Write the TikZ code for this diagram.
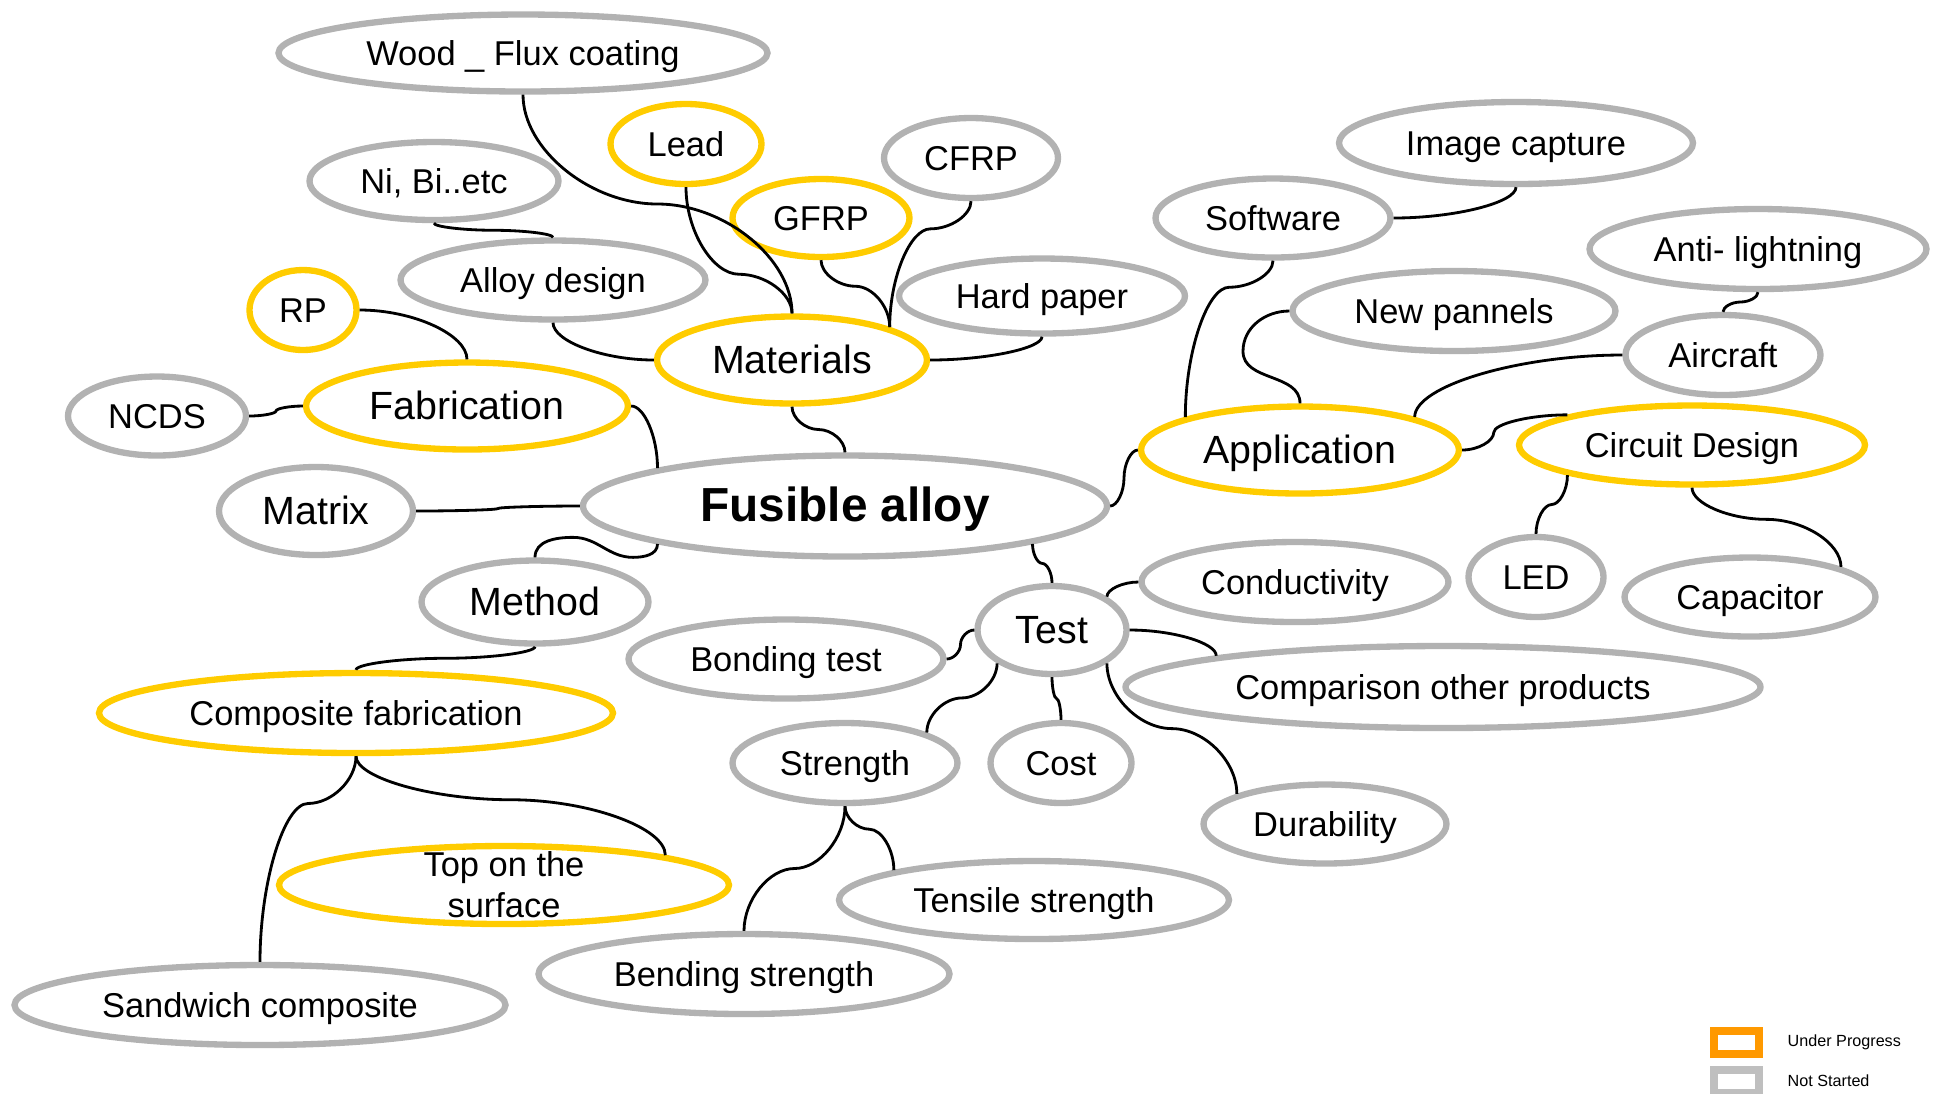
\documentclass[tikz,border=0pt]{standalone}
\usepackage{fontspec}
\setmainfont{Liberation Sans}
\usepackage{tikz}
\usetikzlibrary{shapes.geometric,positioning,calc}
\usepackage{xcolor}
\definecolor{nodegray}{RGB}{178,178,178}
\definecolor{progyellow}{RGB}{255,204,0}
\definecolor{legorange}{RGB}{255,153,0}
\definecolor{leggray}{RGB}{191,191,191}

\tikzset{
  bub/.style={ellipse, draw=nodegray, line width=1.8pt, inner sep=0pt, text height=0.905em, text depth=0.212em, font=\fontsize{9.8}{11.6}\selectfont},
  prog/.style={bub, draw=progyellow},
  big/.style={text height=1.0em, font=\fontsize{11.2}{13}\selectfont},
  link/.style={line width=0.8pt},
  keybox/.style={line width=0.08cm, minimum width=0.45cm, minimum height=0.23cm, inner sep=0pt},
  keytext/.style={inner sep=0pt, font=\fontsize{4.6}{5.5}\selectfont},
  % vertical - horizontal - vertical
  vcurve/.style={to path={let \p1=(\tikztostart), \p2=(\tikztotarget), \n1={\y1+#1*(\y2-\y1)} in
    .. controls (\x1,{(\y1+\n1*1pt)/2}) and ({0.75*\x1+0.25*\x2},{\n1*1pt}) .. ({0.5*\x1+0.5*\x2},{\n1*1pt})
    .. controls ({0.25*\x1+0.75*\x2},{\n1*1pt}) and (\x2,{(\n1*1pt+\y2)/2}) .. (\tikztotarget)}},
  vcurve/.default=0.5,
  % horizontal - vertical - horizontal
  hcurve/.style={to path={let \p1=(\tikztostart), \p2=(\tikztotarget), \n1={\x1+#1*(\x2-\x1)} in
    .. controls ({(\x1+\n1*1pt)/2},\y1) and ({\n1*1pt},{0.75*\y1+0.25*\y2}) .. ({\n1*1pt},{0.5*\y1+0.5*\y2})
    .. controls ({\n1*1pt},{0.25*\y1+0.75*\y2}) and ({(\n1*1pt+\x2)/2},\y2) .. (\tikztotarget)}},
  hcurve/.default=0.5,
  % elbows
  vhcurve/.style={to path={let \p1=(\tikztostart), \p2=(\tikztotarget) in
    .. controls (\x1,{0.5*\y1+0.5*\y2}) and ({0.5*\x1+0.5*\x2},\y2) .. (\tikztotarget)}},
  hvcurve/.style={to path={let \p1=(\tikztostart), \p2=(\tikztotarget) in
    .. controls ({0.5*\x1+0.5*\x2},\y1) and (\x2,{0.5*\y1+0.5*\y2}) .. (\tikztotarget)}},
}

\begin{document}
\begin{tikzpicture}
\useasboundingbox (0,0) rectangle (19.34,-10.93);
% Root
\node[bub, minimum width=5.24cm, minimum height=1.01cm, text height=1.11em, font=\fontsize{13.6}{16}\selectfont\bfseries] (fus) at (8.45,-5.06) {Fusible alloy};
% Level 1
\node[prog, big, minimum width=2.70cm, minimum height=0.87cm] (mat) at (7.92,-3.60) {Materials};
\node[prog, big, minimum width=3.22cm, minimum height=0.87cm] (fab) at (4.67,-4.06) {Fabrication};
\node[bub, big, minimum width=1.94cm, minimum height=0.88cm] (matrix) at (3.16,-5.11) {Matrix};
\node[bub, big, minimum width=2.27cm, minimum height=0.83cm] (meth) at (5.35,-6.02) {Method};
\node[prog, big, minimum width=3.18cm, minimum height=0.87cm] (app) at (13.00,-4.50) {Application};
\node[bub, big, minimum width=1.49cm, minimum height=0.88cm] (test) at (10.52,-6.30) {Test};
% Materials
\node[bub, minimum width=4.89cm, minimum height=0.77cm] (wood) at (5.23,-0.53) {Wood \_ Flux coating};
\node[prog, minimum width=1.51cm, minimum height=0.80cm] (lead) at (6.86,-1.44) {Lead};
\node[bub, minimum width=1.74cm, minimum height=0.80cm] (cfrp) at (9.71,-1.58) {CFRP};
\node[prog, minimum width=1.77cm, minimum height=0.78cm] (gfrp) at (8.21,-2.18) {GFRP};
\node[bub, minimum width=2.86cm, minimum height=0.75cm] (hard) at (10.42,-2.96) {Hard paper};
\node[bub, minimum width=3.05cm, minimum height=0.79cm] (alloy) at (5.53,-2.80) {Alloy design};
\node[bub, minimum width=2.49cm, minimum height=0.78cm] (nibi) at (4.34,-1.81) {Ni, Bi..etc};
% Fabrication
\node[prog, minimum width=1.07cm, minimum height=0.80cm] (rp) at (3.03,-3.10) {RP};
\node[bub, minimum width=1.78cm, minimum height=0.79cm] (ncds) at (1.57,-4.16) {NCDS};
% Method
\node[prog, minimum width=5.14cm, minimum height=0.80cm] (comp) at (3.56,-7.13) {Composite fabrication};
\node[prog, minimum width=4.50cm, minimum height=0.78cm, text height=, text depth=, inner ysep=-4pt, align=center] (top) at (5.04,-8.85) {Top on the\\surface};
\node[bub, minimum width=4.91cm, minimum height=0.80cm] (sand) at (2.60,-10.05) {Sandwich composite};
% Test
\node[bub, minimum width=3.15cm, minimum height=0.79cm] (bond) at (7.86,-6.59) {Bonding test};
\node[bub, minimum width=3.07cm, minimum height=0.80cm] (cond) at (12.95,-5.82) {Conductivity};
\node[bub, minimum width=6.35cm, minimum height=0.82cm] (cmpr) at (14.43,-6.87) {Comparison other products};
\node[bub, minimum width=2.25cm, minimum height=0.80cm] (str) at (8.45,-7.63) {Strength};
\node[bub, minimum width=1.41cm, minimum height=0.80cm] (cost) at (10.61,-7.63) {Cost};
\node[bub, minimum width=2.43cm, minimum height=0.79cm] (dur) at (13.25,-8.24) {Durability};
\node[bub, minimum width=3.90cm, minimum height=0.78cm] (tens) at (10.34,-9.00) {Tensile strength};
\node[bub, minimum width=4.11cm, minimum height=0.80cm] (bend) at (7.44,-9.74) {Bending strength};
% Application
\node[bub, minimum width=2.35cm, minimum height=0.79cm] (soft) at (12.73,-2.18) {Software};
\node[bub, minimum width=3.54cm, minimum height=0.82cm] (img) at (15.16,-1.43) {Image capture};
\node[bub, minimum width=3.23cm, minimum height=0.80cm] (newp) at (14.54,-3.11) {New pannels};
\node[bub, minimum width=1.95cm, minimum height=0.80cm] (air) at (17.23,-3.55) {Aircraft};
\node[bub, minimum width=3.37cm, minimum height=0.80cm] (anti) at (17.58,-2.49) {Anti- lightning};
\node[prog, minimum width=3.46cm, minimum height=0.79cm] (circ) at (16.92,-4.45) {Circuit Design};
\node[bub, minimum width=1.35cm, minimum height=0.80cm] (led) at (15.36,-5.77) {LED};
\node[bub, minimum width=2.51cm, minimum height=0.79cm] (cap) at (17.50,-5.97) {Capacitor};

% links from the root
\draw[link] (mat.south) to[vcurve] (fus.north);
\draw[link] (fab.east) to[hvcurve] (fus.north west);
\draw[link] (matrix.east) to[hcurve] (fus.west);
\draw[link] (meth.north) to[out=90,in=180] ++(0.38,0.2) to[out=0,in=180] ++(0.6,-0.2) to[out=0,in=-90] (fus.south west);
\draw[link] (fus.east) to[hcurve] (app.west);
\draw[link] (fus.south east) to[vcurve] (test.north);
% materials
\draw[link] (wood.south) to[vcurve] (mat.north);
\draw[link] (lead.south) to[vcurve=0.69] (mat.north);
\draw[link] (gfrp.south) to[vcurve=0.39] (mat.north east);
\draw[link] (cfrp.south) to[vcurve=0.22] (mat.north east);
\draw[link] (mat.east) to[hvcurve] (hard.south);
\draw[link] (alloy.south) to[vhcurve] (mat.west);
\draw[link] (nibi.south) to[vcurve] (alloy.north);
% fabrication
\draw[link] (rp.east) to[hvcurve] (fab.north);
\draw[link] (ncds.east) to[hcurve] (fab.west);
% method
\draw[link] (meth.south) to[vcurve] (comp.north);
\draw[link] (comp.south) to[vcurve=0.23] (sand.north);
\draw[link] (comp.south) to[vcurve=0.44] (top.north east);
% test
\draw[link] (bond.east) to[hcurve] (test.west);
\draw[link] (test.north east) to[vhcurve] (cond.west);
\draw[link] (test.east) to[hvcurve] (cmpr.north west);
\draw[link] (test.south east) to[vcurve] (dur.north west);
\draw[link] (test.south) to[vcurve] (cost.north);
\draw[link] (test.south west) to[vcurve] (str.north east);
\draw[link] (str.south) to[vcurve] (bend.north);
\draw[link] (str.south) to[vcurve=0.36] (tens.north west);
% application
\draw[link] (soft.south) to[vcurve=0.17] (app.north west);
\draw[link] (soft.east) to[hvcurve] (img.south);
\draw[link] (app.north) to[out=90,in=-90] ++(-0.57,0.52) to[out=90,in=180] (newp.west);
\draw[link] (app.north east) to[vhcurve] (air.west);
\draw[link] (air.north) to[vcurve] (anti.south);
\draw[link] (app.east) to[hcurve=0.3] (circ.north west);
\draw[link] (circ.south west) to[vcurve] (led.north);
\draw[link] (circ.south) to[vcurve=0.4] (cap.north east);

% legend
\node[keybox, draw=legorange] (keyprog) at (17.365,-10.425) {};
\node[keybox, draw=leggray] (keynone) at (17.365,-10.81) {};
\node[keytext, right=0.24cm of keyprog] (keyprogtxt) {Under Progress};
\node[keytext, right=0.24cm of keynone] (keynonetxt) {Not Started};
\end{tikzpicture}
\end{document}
